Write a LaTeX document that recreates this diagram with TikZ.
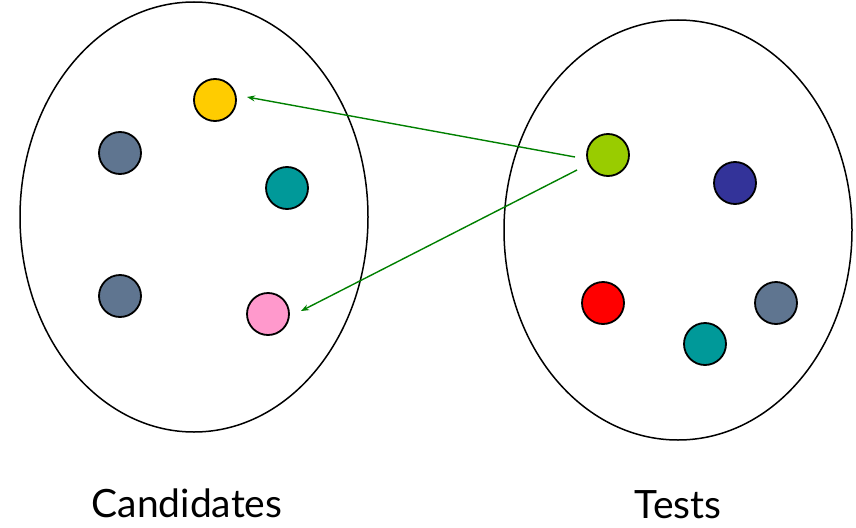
\documentclass[tikz,border=0pt]{standalone}
\usepackage{fontspec}
\setmainfont{Lato}
\usetikzlibrary{arrows.meta}
\definecolor{cyellow}{HTML}{FFCC00}
\definecolor{cslate}{HTML}{5F7590}
\definecolor{cteal}{HTML}{009999}
\definecolor{cpink}{HTML}{FF99CC}
\definecolor{clime}{HTML}{99CC00}
\definecolor{cnavy}{HTML}{333399}
\definecolor{cred}{HTML}{FF0000}
\definecolor{carrow}{HTML}{008000}
\begin{document}
\begin{tikzpicture}[x=1pt,y=-1pt,
  setell/.style={draw=black,line width=1.5pt},
  dot/.style={circle,draw=black,line width=1.8pt,minimum size=42pt,inner sep=0pt},
  link/.style={draw=carrow,line width=1.4pt,-{Stealth[length=8pt,width=6pt]}},
  lbl/.style={font=\fontsize{39}{46}\selectfont}]
\useasboundingbox (0,0) rectangle (856,527);
\draw[setell] (194,217) ellipse [x radius=174, y radius=215];
\draw[setell] (678,230) ellipse [x radius=174, y radius=210];
% candidates
\node[dot,fill=cyellow] (y1) at (215,100) {};
\node[dot,fill=cslate] (g1) at (120,153) {};
\node[dot,fill=cteal] (t1) at (287,188) {};
\node[dot,fill=cslate] (g2) at (120,296) {};
\node[dot,fill=cpink] (p1) at (268,314) {};
% tests
\node[dot,fill=clime] (l1) at (608,155) {};
\node[dot,fill=cnavy] (n1) at (735,183) {};
\node[dot,fill=cred] (r1) at (603,303) {};
\node[dot,fill=cslate] (g3) at (776,303) {};
\node[dot,fill=cteal] (t2) at (705,344) {};
% arrows
\coordinate (s1) at (575,157);
\coordinate (e1) at (247,97);
\coordinate (s2) at (577,170);
\coordinate (e2) at (301,311);
\draw[link] (s1) -- (e1);
\draw[link] (s2) -- (e2);
% labels
\node[lbl] (lc) at (187,503) {Candidates};
\node[lbl] (lt) at (678,505) {Tests};
\end{tikzpicture}
\end{document}
